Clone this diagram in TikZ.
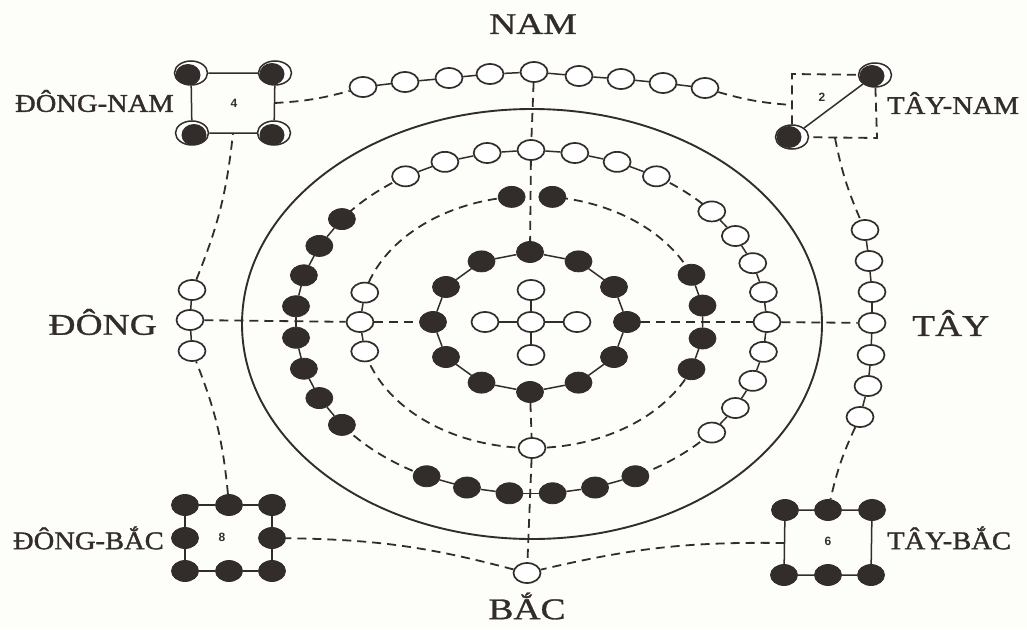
\documentclass[tikz,border=0pt]{standalone}
\usepackage{fontspec}
\setmainfont{Liberation Serif}
\newfontfamily\dirfont[FakeStretch=1.25,FakeBold=1.0]{Liberation Serif}
\newfontfamily\subfont[FakeStretch=1.12,FakeBold=1.4]{Liberation Serif}
\newfontfamily\numfont{Liberation Sans}
\usetikzlibrary{shapes.geometric,backgrounds}
\definecolor{ink}{RGB}{50,45,43}
\definecolor{paper}{RGB}{253,253,249}

\begin{document}
\begin{tikzpicture}[x=1pt,y=-1pt,
  wn/.style={ellipse,draw=ink,line width=1.7pt,fill=white,minimum width=27pt,minimum height=20pt,inner sep=0pt},
  bn/.style={ellipse,draw=ink,line width=0.8pt,fill=ink,minimum width=27pt,minimum height=21pt,inner sep=0pt},
  moon/.style={ellipse,draw=ink,line width=1.5pt,fill=white,minimum width=33pt,minimum height=24pt,inner sep=0pt,
    path picture={\fill[ink] ([shift={#1}]path picture bounding box.center) ellipse[x radius=12.5pt,y radius=11pt];}},
  link/.style={draw=ink,line width=1.5pt},
  dashline/.style={draw=ink,line width=1.8pt,dash pattern=on 9pt off 6pt},
  rim/.style={draw=ink,line width=1.9pt},
  bigdir/.style={font=\dirfont\fontsize{30}{30}\selectfont,text=ink,inner sep=0pt},
  subdir/.style={font=\subfont\fontsize{25.5}{26}\selectfont,text=ink,inner sep=0pt},
  numlab/.style={font=\numfont\bfseries\fontsize{12}{12}\selectfont,text=ink,inner sep=0pt}
]
\useasboundingbox (0,0) rectangle (1027,629);

% ---- centre cross (five white) ----
\node[wn] (c0) at (531,322) {};
\node[wn] (cN) at (531,290) {};
\node[wn] (cS) at (531,355) {};
\node[wn] (cW) at (485,322) {};
\node[wn] (cE) at (577,322) {};

% ---- inner ring: twelve black ----
\foreach \k in {0,...,11}
  \node[bn] (r\k) at ({530+97*cos(30*\k)},{322+70*sin(30*\k)}) {};

% ---- second ring ----
\node[bn] (s-tl) at ({532+172*cos(263.2)},{322+126*sin(263.2)}) {};
\node[bn] (s-tr) at ({532+172*cos(276.8)},{322+126*sin(276.8)}) {};
\foreach \k/\a in {1/338,2/352.5,3/7.5,4/22}
  \node[bn] (s-r\k) at ({532+172*cos(\a)},{322+126*sin(\a)}) {};
\node[wn] (s-b) at ({532+172*cos(90)},{322+126*sin(90)}) {};
\foreach \k/\a in {1/193.5,2/180,3/166.5}
  \node[wn] (s-l\k) at ({532+172*cos(\a)},{322+126*sin(\a)}) {};

% ---- middle ring ----
\foreach \k in {1,...,7}
  \node[wn] (m-t\k) at ({531+236*cos(270+(\k-4)*10.7)},{322+172*sin(270+(\k-4)*10.7)}) {};
\foreach \k in {1,...,9}
  \node[wn] (m-r\k) at ({531+236*cos((\k-5)*10)},{322+172*sin((\k-5)*10)}) {};
\foreach \k in {1,...,6}
  \node[bn] (m-b\k) at ({531+236*cos(63.75+(\k-1)*10.5)},{322+172*sin(63.75+(\k-1)*10.5)}) {};
\foreach \k in {1,...,8}
  \node[bn] (m-l\k) at ({531+236*cos(143.25+(\k-1)*10.5)},{322+172*sin(143.25+(\k-1)*10.5)}) {};

% ---- outer groups ----
\foreach \k/\x/\y in {1/363/87,2/405/82,3/449/78,4/490/74,5/534/72,6/579/76,7/621/79,8/663/83,9/705/88}
  \node[wn] (T\k) at (\x,\y) {};
\foreach \k/\x/\y in {1/865/230,2/869/261,3/872/292,4/872/323,5/871/355,6/868/386,7/860/417}
  \node[wn] (W\k) at (\x,\y) {};
\foreach \k/\x/\y in {1/192/290,2/190/320,3/192/351}
  \node[wn] (E\k) at (\x,\y) {};
\node[wn] (B) at (527,573) {};

% south-east corner (four)
\node[moon={(-3pt,-2pt)}] (dn1) at (191,73) {};
\node[moon={(-3pt,-1pt)}] (dn2) at (275,73) {};
\node[moon={(-2pt,-2pt)}] (dn3) at (274,133) {};
\node[moon={(2pt,-2pt)}] (dn4) at (192,133) {};
\coordinate (dnE) at (274.5,103);
\coordinate (dnS) at (233,133);
\node[numlab] at (234,103) {4};

% south-west corner (two)
\node[moon={(-3pt,-1pt)}] (tn1) at (875,75) {};
\node[moon={(-3pt,0pt)}] (tn2) at (792,137) {};
\coordinate (tnA) at (792,74);
\coordinate (tnC) at (877,138);
\coordinate (tnW) at (792,105);
\coordinate (tnS) at (835,138);
\node[numlab] at (822,97) {2};

% north-east corner (eight)
\foreach \k/\x/\y in {1/185/505,2/229/505,3/272/505,4/185/538,5/272/538,6/185/571,7/229/571,8/272/571}
  \node[bn] (db\k) at (\x,\y) {};
\node[numlab] at (222,537) {8};

% north-west corner (six)
\foreach \k/\x/\y in {1/785/510,2/828/510,3/872/510,4/871/575,5/828/575,6/784/575}
  \node[bn] (tb\k) at (\x,\y) {};
\coordinate (tbW) at (784.5,543);
\node[numlab] at (828,541) {6};

% ---- labels ----
\node[bigdir] (nam) at (533,24) {NAM};
\node[bigdir] (bac) at (527,606) {BẮC};
\node[bigdir,anchor=east] (dong) at (157,322) {ĐÔNG};
\node[bigdir,anchor=west] (tay) at (912,323) {TÂY};
\node[subdir,anchor=east] (dongnam) at (174,101) {ĐÔNG-NAM};
\node[subdir,anchor=west] (taynam) at (887,103) {TÂY-NAM};
\node[subdir,anchor=east] (dongbac) at (164,538) {ĐÔNG-BẮC};
\node[subdir,anchor=west] (taybac) at (887,538) {TÂY-BẮC};

\begin{pgfonlayer}{background}
  \fill[paper] (0,0) rectangle (1027,629);
  \draw[rim] (532,324) ellipse[x radius=290,y radius=215];

  % centre cross
  \draw[link] (cN) -- (c0) -- (cS);
  \draw[link] (cW) -- (c0) -- (cE);

  % inner ring
  \foreach \k [evaluate=\k as \n using {int(mod(\k+1,12))}] in {0,...,11}
    \draw[link] (r\k) -- (r\n);

  % second ring
  \draw[link] (s-r1) -- (s-r2) -- (s-r3) -- (s-r4);
  \draw[link] (s-l1) -- (s-l2) -- (s-l3);
  \draw[dashline] (s-tl) arc[start angle=263.2,end angle=193.5,x radius=172,y radius=126];
  \draw[dashline] (s-l3) arc[start angle=166.5,end angle=90,x radius=172,y radius=126];
  \draw[dashline] (s-b) arc[start angle=90,end angle=22,x radius=172,y radius=126];
  \draw[dashline] (s-r1) arc[start angle=338,end angle=276.8,x radius=172,y radius=126];

  % middle ring
  \foreach \k [evaluate=\k as \n using int(\k+1)] in {1,...,6} \draw[link] (m-t\k) -- (m-t\n);
  \foreach \k [evaluate=\k as \n using int(\k+1)] in {1,...,8} \draw[link] (m-r\k) -- (m-r\n);
  \foreach \k [evaluate=\k as \n using int(\k+1)] in {1,...,5} \draw[link] (m-b\k) -- (m-b\n);
  \foreach \k [evaluate=\k as \n using int(\k+1)] in {1,...,7} \draw[link] (m-l\k) -- (m-l\n);
  \draw[dashline] (m-t1) arc[start angle=237.9,end angle=216.75,x radius=236,y radius=172];
  \draw[dashline] (m-t7) arc[start angle=302.1,end angle=320,x radius=236,y radius=172];
  \draw[dashline] (m-r9) arc[start angle=40,end angle=63.75,x radius=236,y radius=172];
  \draw[dashline] (m-b6) arc[start angle=116.25,end angle=143.25,x radius=236,y radius=172];

  % axes
  \draw[dashline] (T5) -- (m-t4);
  \draw[dashline] (m-t4) -- (r9);
  \draw[dashline] (r3) -- (s-b);
  \draw[dashline] (s-b) -- (B);
  \draw[dashline] (E2) -- (s-l2);
  \draw[dashline] (s-l2) -- (r6);
  \draw[dashline] (r0) -- (m-r5);
  \draw[dashline] (m-r5) -- (W4);

  % outer chains
  \foreach \k [evaluate=\k as \n using int(\k+1)] in {1,...,8} \draw[link] (T\k) -- (T\n);
  \foreach \k [evaluate=\k as \n using int(\k+1)] in {1,...,6} \draw[link] (W\k) -- (W\n);
  \draw[link] (E1) -- (E2) -- (E3);

  % corner boxes
  \draw[link] (dn1) -- (dn2) -- (dn3) -- (dn4) -- (dn1);
  \draw[link] (tn1) -- (tn2);
  \draw[dashline] (tn2) -- (tnA) -- (tn1);
  \draw[dashline] (tn1) -- (tnC) -- (tn2);
  \draw[link] (db1) -- (db2) -- (db3) -- (db5) -- (db8) -- (db7) -- (db6) -- (db4) -- (db1);
  \draw[link] (tb1) -- (tb2) -- (tb3) -- (tb4) -- (tb5) -- (tb6) -- (tb1);

  % outer dashed loop
  \draw[dashline] (dnE) to[bend right=6] (T1);
  \draw[dashline] (T9) to[bend right=6] (tnW);
  \draw[dashline] (tnS) to[bend right=6] (W1);
  \draw[dashline] (W7) to[bend right=6] (tb2);
  \draw[dashline] (tbW) to[bend right=7] (B);
  \draw[dashline] (B) to[bend right=7] (db5);
  \draw[dashline] (db2) to[bend right=8] (E3);
  \draw[dashline] (E1) to[bend right=8] (dnS);
\end{pgfonlayer}
\end{tikzpicture}
\end{document}
